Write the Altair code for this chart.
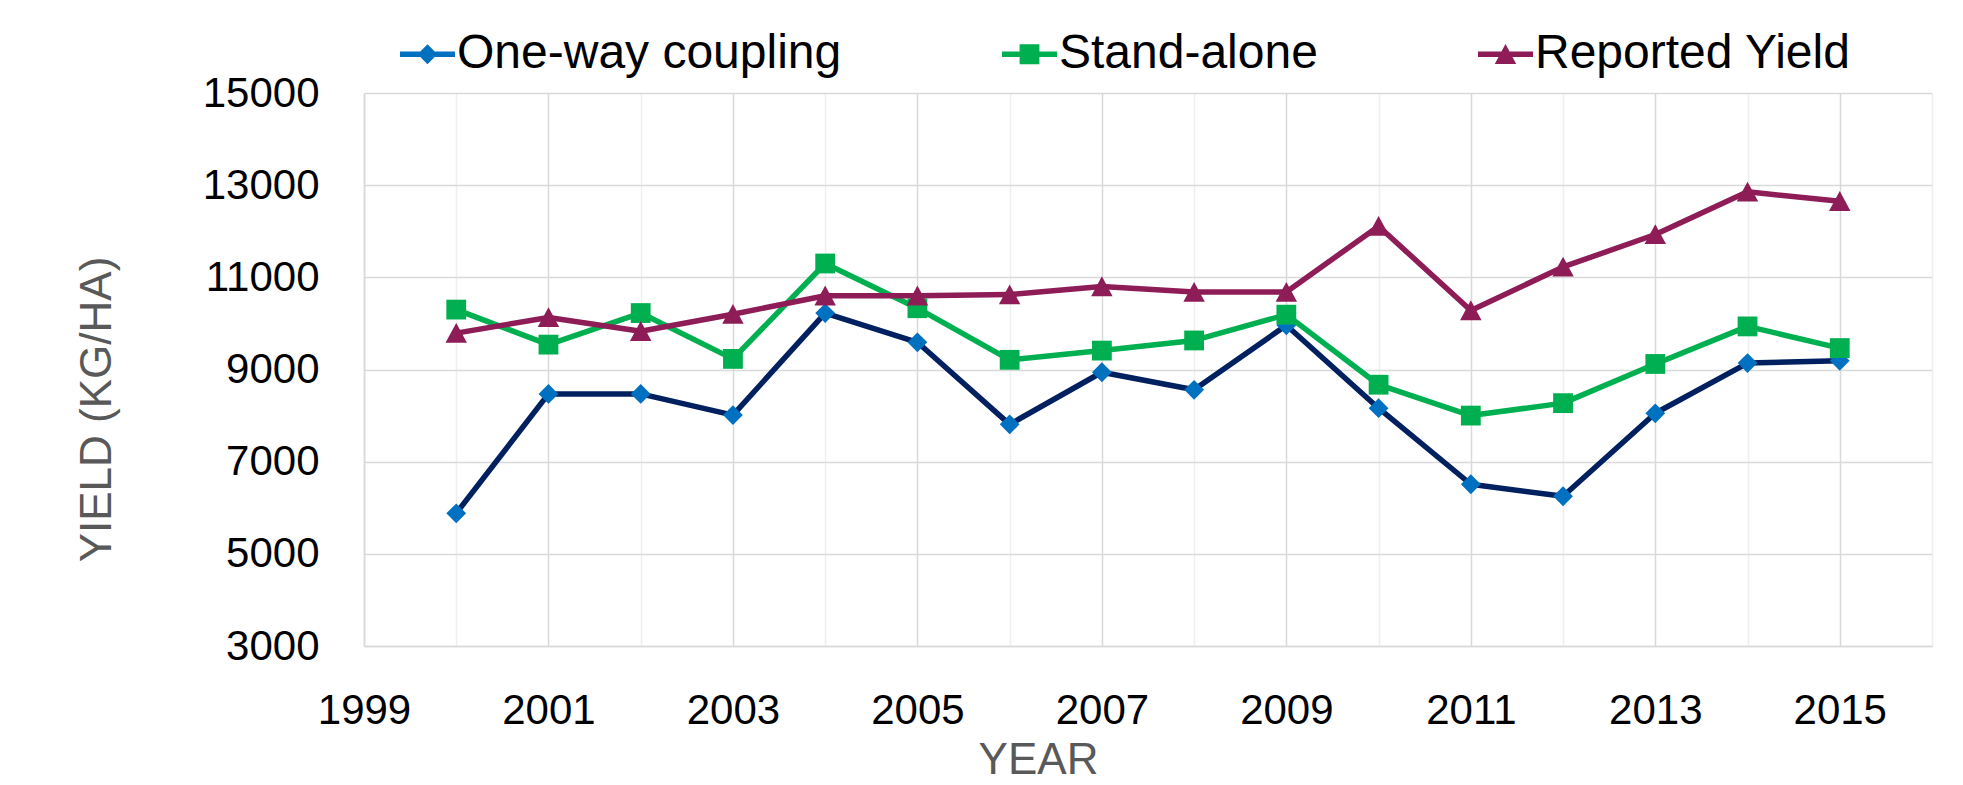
import altair as alt
import pandas as pd

# ---- data ----
years = list(range(2000, 2016))
one_way = [5880, 8470, 8470, 8010, 10225, 9590, 7810, 8940, 8560, 9960,
           8160, 6510, 6250, 8050, 9140, 9190]
stand_alone = [10300, 9540, 10225, 9230, 11300, 10330, 9210, 9410, 9630, 10190,
               8670, 8000, 8270, 9120, 9935, 9465]
reported = [9790, 10130, 9830, 10200, 10600, 10600, 10625, 10800, 10680, 10680,
            12110, 10280, 11225, 11930, 12855, 12650]

series_names = ["One-way coupling", "Stand-alone", "Reported Yield"]
x_ticks = list(range(1999, 2017))
y_ticks = list(range(3000, 15001, 2000))

# ---- styles ----
line_colors = ["#002060", "#00B050", "#8E1C57"]
marker_colors = ["#0070C0", "#00B050", "#8E1C57"]
marker_paths = [
    "M0,-0.36L0.36,0L0,0.36L-0.36,0Z",
    "M-0.36,-0.36H0.36V0.36H-0.36Z",
    "M0,-0.37L0.39,0.35L-0.39,0.35Z",
]
legend_paths = [
    "M-1,-0.1H1V0.1H-1Z M0,-0.36L0.36,0L0,0.36L-0.36,0Z",
    "M-1,-0.1H1V0.1H-1Z M-0.36,-0.36H0.36V0.36H-0.36Z",
    "M-1,-0.1H1V0.1H-1Z M0,-0.37L0.39,0.35L-0.39,0.35Z",
]
FONT = "Liberation Sans"

rows = []
for name, vals in zip(series_names, [one_way, stand_alone, reported]):
    for yr, v in zip(years, vals):
        rows.append({"series": name, "year": yr, "yield": v})
df = pd.DataFrame(rows)

x_axis = alt.Axis(
    values=x_ticks, format="d",
    labelExpr="datum.value % 2 == 1 ? datum.label : ''",
    labelOverlap=False, labelFlush=False,
    labelFont=FONT, labelFontSize=42, labelColor="#000000",
    labelBaseline="alphabetic", labelPadding=77,
    ticks=False, tickSize=0,
    domainColor="#D9D9D9", domainWidth=1.5,
    grid=True, gridWidth=1.5,
    gridColor={"condition": {"test": "datum.value % 2 == 0", "value": "#EFEFEF"},
               "value": "#D9D9D9"},
    title="YEAR", titleFont=FONT, titleFontSize=44, titleFontWeight="normal",
    titleColor="#595959", titleX=674, titleY=136,
    titleBaseline="bottom", titleAlign="center",
)

y_axis = alt.Axis(
    values=y_ticks, format="d",
    labelOverlap=False, labelFlush=False,
    labelFont=FONT, labelFontSize=42, labelColor="#000000",
    labelPadding=45, ticks=False, tickSize=0,
    domainColor="#D9D9D9", domainWidth=1.5,
    grid=True, gridColor="#D9D9D9", gridWidth=1.5,
    title="YIELD (KG/HA)", titleFont=FONT, titleFontSize=44,
    titleFontWeight="normal", titleColor="#595959", titleAngle=270,
    titleX=-254, titleY=316, titleBaseline="alphabetic", titleAlign="center",
)

base = alt.Chart(df).encode(
    x=alt.X("year:Q", scale=alt.Scale(domain=[1999, 2016], nice=False, zero=False),
            axis=x_axis),
    y=alt.Y("yield:Q", scale=alt.Scale(domain=[3000, 15000], nice=False, zero=False),
            axis=y_axis),
)

lines = base.mark_line(strokeWidth=5.5, strokeJoin="round", strokeCap="round").encode(
    color=alt.Color("series:N", scale=alt.Scale(domain=series_names, range=line_colors),
                    legend=None),
)

points = base.mark_point(filled=True, size=3025, opacity=1, strokeWidth=0).encode(
    fill=alt.Fill("series:N", scale=alt.Scale(domain=series_names, range=marker_colors),
                  legend=None),
    shape=alt.Shape("series:N", scale=alt.Scale(domain=series_names, range=marker_paths),
                    legend=None),
)

legend_def = alt.Legend(
    orient="none", legendX=36, legendY=-66.5, direction="horizontal",
    title=None, columns=3, symbolSize=3025, symbolStrokeWidth=0,
    symbolStrokeColor="transparent",
    labelFont=FONT, labelFontSize=48, labelColor="#000000", labelOffset=2,
    labelLimit=1000, columnPadding=160, padding=0,
)

# legend-only layer (draws no data) carrying the line+marker legend symbols
legend_only = alt.Chart(df).transform_filter("false").mark_point(
    filled=True, size=3025, opacity=1, strokeWidth=0
).encode(
    x="year:Q", y="yield:Q",
    fill=alt.Fill("series:N", scale=alt.Scale(domain=series_names, range=marker_colors),
                  legend=legend_def),
    shape=alt.Shape("series:N", scale=alt.Scale(domain=series_names, range=legend_paths),
                    legend=legend_def),
)

chart = alt.layer(lines, points, legend_only).resolve_scale(
    fill="independent", shape="independent"
).properties(
    width=1568, height=553,
    autosize=alt.AutoSizeParams(type="none"),
    padding={"left": 356, "top": 85, "right": 23, "bottom": 137},
    background="white",
).configure_view(stroke=None)

chart.save("out.html", embed_options={"renderer": "svg", "actions": False})
